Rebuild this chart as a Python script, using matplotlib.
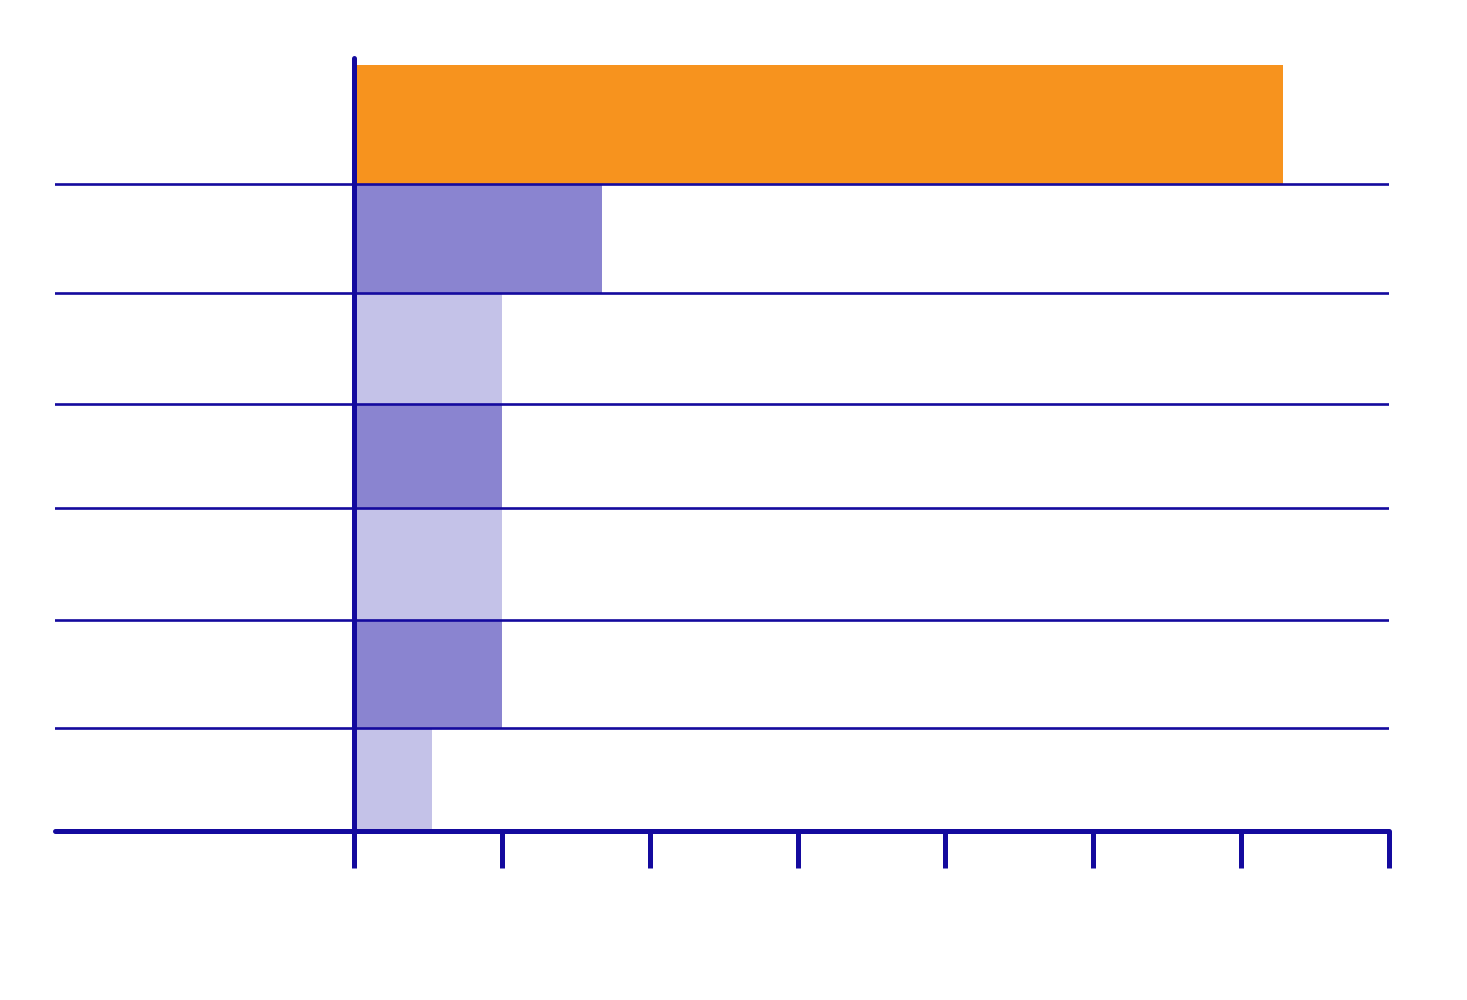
import numpy as np
import matplotlib
matplotlib.use("Agg")
import matplotlib.pyplot as plt

# Datos (de arriba hacia abajo)
categorias = ["A", "B", "C", "D", "E", "F", "G"]
valores = [6.28, 1.68, 1.0, 1.0, 1.0, 1.0, 0.53]
colores = ["#f7931e", "#8a84d0", "#c4c2e8", "#8a84d0", "#c4c2e8", "#8a84d0", "#c4c2e8"]
ticks_x = [0, 1, 2, 3, 4, 5, 6, 7]

# alto relativo de cada fila (de arriba hacia abajo), solo maquetación
alto_filas = [1.10, 1.00, 1.03, 0.96, 1.03, 1.00, 0.95]

azul = "#140a9e"

fig = plt.figure(figsize=(14.67, 10), dpi=100)
W, H = 1467, 1000
ax = fig.add_axes([55 / W, (H - 831) / H, (1389 - 55) / W, (831 - 58) / H])

alturas = np.array(alto_filas)[::-1]
bordes = np.concatenate([[0], np.cumsum(alturas)])
ax.barh(bordes[:-1], np.array(valores)[::-1], height=alturas, left=0,
        align="edge", color=np.array(colores)[::-1], zorder=1)

# líneas entre filas
for yy in bordes[1:-1]:
    ax.axhline(yy, color=azul, lw=1.9, zorder=3)

x0 = -(354 - 55) / ((1389 - 354) / 7)
ax.set_xlim(x0, 7)
total = bordes[-1]
ax.set_ylim(0, total * (831 - 58) / (831 - 65))

for s in ["top", "right"]:
    ax.spines[s].set_visible(False)
ax.spines["left"].set_position(("data", 0))
for s in ["left", "bottom"]:
    ax.spines[s].set_linewidth(3.6)
    ax.spines[s].set_color(azul)
    ax.spines[s].set_capstyle("round")
    ax.spines[s].set_zorder(4)

ax.set_xticks(ticks_x)
ax.set_xticklabels([])
ax.tick_params(axis="x", length=26.6, width=3.6, color=azul, direction="out")
ax.set_yticks([])
ax.patch.set_alpha(0)

fig.savefig("out.png", dpi=100)
